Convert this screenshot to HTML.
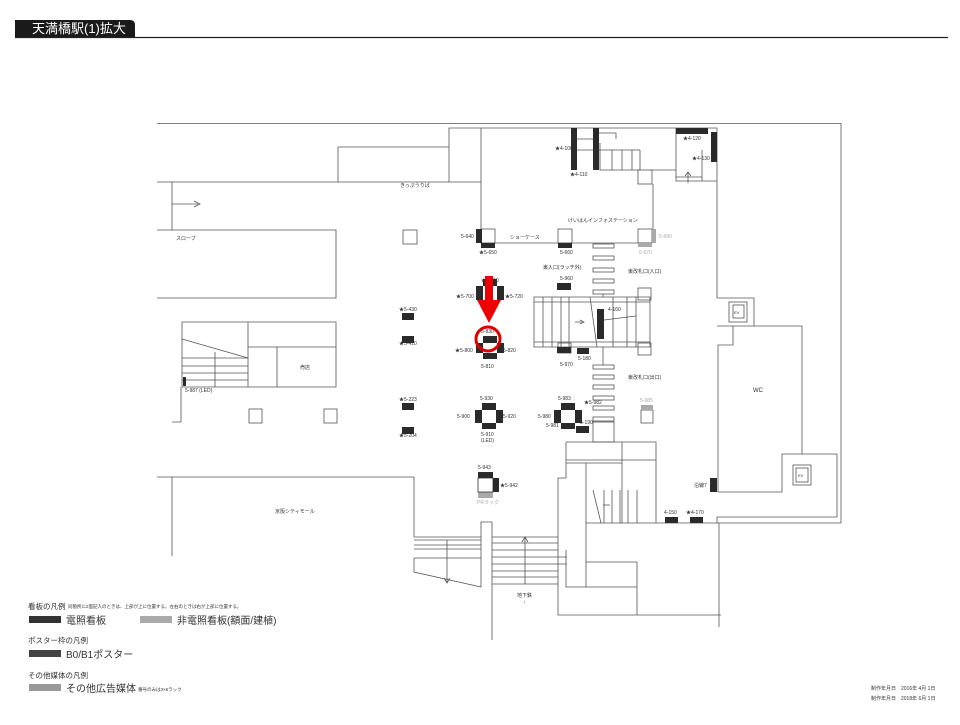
<!DOCTYPE html>
<html><head><meta charset="utf-8"><style>
html,body{margin:0;padding:0;background:#fff;}
body{width:960px;height:720px;position:relative;overflow:hidden;font-family:"Liberation Sans","Noto Sans CJK JP",sans-serif;}
svg text{font-family:"Liberation Sans","Noto Sans CJK JP",sans-serif;}
</style></head><body>
<svg width="960" height="720" viewBox="0 0 960 720" xmlns="http://www.w3.org/2000/svg">
<path d="M15 37 V20 H130 Q135 20 135 25 V37 Z" fill="#1a1a1a"/>
<text x="32" y="33" font-size="13" fill="#fff">天満橋駅(1)拡大</text>
<line x1="15" y1="37.5" x2="948" y2="37.5" stroke="#222" stroke-width="1.2"/>

<g fill="none" stroke="#555" stroke-width="0.8">
<path d="M157 123.5 H841 V523"/>
<path d="M157 182 H481"/>
<path d="M338 182 V147 H449 V182 M449 147 V128 H481"/>
<path d="M481 128 V243 H650"/>
<path d="M481 128 H717 V298"/>
<path d="M172 182 V230 M157 230 H336 V298 H157"/>
<path d="M172 204 H198"/><path d="M194 201 L200 204 L194 207"/>
<path d="M182 322 H336 V387 H182 Z M248 322 V387 M248 347 H336 M277 347 V387"/>
<path d="M182 339 L248 358"/>
<path d="M182 358 H248 M182 366 H248 M182 373 H248 M182 380 H248 M215 352 V387"/>
<path d="M181 387 V422 H172"/>
<rect x="403" y="230" width="14" height="14"/>
<rect x="249" y="409" width="13" height="14"/>
<rect x="324" y="409" width="13" height="14"/>
<path d="M571 139 H598 M571 150 H640 M600 143 V170 H640 V150 M612 150 V170 M622 150 V170 M632 150 V170"/>
<path d="M598 133 H616 V139"/>
<rect x="638" y="170" width="14" height="14"/>
<path d="M650 170 H676 V128 M676 128 V181 H717 M676 177 H702 M702 150 V181"/>
<path d="M688 172 V183 M685 176 L688 172 L691 176"/>
<path d="M653 184 V243"/>
<rect x="481" y="229" width="14" height="14"/>
<rect x="558" y="229" width="14" height="14"/>
<rect x="638" y="229" width="14" height="14"/>
<rect x="593" y="244" width="21" height="4"/><rect x="593" y="256" width="21" height="4"/><rect x="593" y="268" width="21" height="4"/><rect x="593" y="279" width="21" height="4"/><rect x="593" y="290" width="21" height="4"/>
<rect x="593" y="365" width="21" height="4"/><rect x="593" y="375" width="21" height="4"/><rect x="593" y="385" width="21" height="4"/><rect x="593" y="396" width="21" height="4"/><rect x="593" y="406" width="21" height="4"/><rect x="593" y="417" width="21" height="4"/>
<path d="M603 294 V297 M603 347 V365"/>
<path d="M534 297 H650 V347 H534 Z M534 302 H650 M534 342 H650"/>
<path d="M543 297 V347 M552 297 V347 M561 297 V347 M569 297 V347 M627 297 V347 M636 297 V347 M613 297 V347 M590 297 L597 347"/>
<path d="M575 322 H582 M580 320 L584 322 L580 324"/>
<path d="M604 320 L636 316"/>
<rect x="638" y="288" width="13" height="12"/>
<rect x="638" y="343" width="13" height="12"/>
<rect x="558" y="343" width="13" height="10"/>
<rect x="641" y="410" width="12" height="13"/>
<!-- ev + wc -->
<path d="M717 298 H754 V326"/>
<rect x="729" y="302" width="18" height="20"/><rect x="733" y="305" width="11" height="13"/>
<path d="M717 326 H802 V454 M733 326 V345 H718 V492 H782 V454 H837 V517 H717 V523 H841"/>
<rect x="793" y="465" width="18" height="20"/><rect x="796" y="468" width="12" height="14"/>
<!-- lower right -->
<path d="M566 442 H656 V523 M566 442 V478 H558 V615 H721 M566 460 H656 M566 463 H622 M622 442 V523"/>
<path d="M586 463 V587 M586 523 H717 M719 523 V627"/>
<path d="M586 562 H637 V615 M566 550 V587 H637"/>
<path d="M604 490 V523 M612 490 V523 M620 490 V523 M628 490 V523 M637 490 V523 M593 490 L601 523"/>
<path d="M603 505 H610"/>
<rect x="593" y="422" width="21" height="20"/>
<path d="M157 477 H414 M172 477 V556"/>
<path d="M414 477 V537 M414 537 H481 M414 540 H481 M414 545 H481 M414 549 H481 M414 558 H481 M414 558 V572 L481 587 V522 H492 V640"/>
<path d="M447 540 V582 M444 578 L447 583 L450 578"/>
<path d="M492 537 H558 M492 543 H558 M492 550 H558 M492 557 H567 M492 564 H567 M492 571 H558 M492 577 H558 M492 584 H558"/>
<path d="M525 584 V538 M522 542 L525 537 L528 542"/>
</g>

<g fill="#2a2a2a">
<rect x="571" y="128" width="6" height="42"/><rect x="593" y="128" width="6" height="42"/>
<rect x="676" y="128" width="32" height="6"/><rect x="711" y="132" width="6" height="30"/>
<rect x="476" y="229" width="6" height="14"/><rect x="481" y="243" width="14" height="5"/>
<rect x="558" y="243" width="14" height="5"/>
<rect x="483" y="279" width="14" height="7"/><rect x="476" y="286" width="7" height="14"/><rect x="497" y="286" width="7" height="14"/><rect x="483" y="300" width="14" height="5"/>
<rect x="402" y="313" width="12" height="7"/><rect x="402" y="336" width="12" height="7"/>
<rect x="483" y="336" width="14" height="7"/><rect x="476" y="343" width="7" height="10"/><rect x="497" y="343" width="7" height="10"/><rect x="483" y="353" width="14" height="6"/>
<rect x="402" y="403" width="12" height="7"/><rect x="402" y="427" width="12" height="7"/>
<rect x="482" y="403" width="14" height="7"/><rect x="475" y="410" width="7" height="13"/><rect x="496" y="410" width="7" height="13"/><rect x="482" y="423" width="14" height="6"/>
<rect x="561" y="403" width="14" height="7"/><rect x="554" y="410" width="7" height="13"/><rect x="575" y="410" width="7" height="13"/><rect x="561" y="423" width="14" height="6"/>
<rect x="576" y="426" width="13" height="7"/>
<rect x="478" y="472" width="15" height="6"/><rect x="493" y="478" width="6" height="14"/>
<rect x="597" y="309" width="7" height="30"/>
<rect x="557" y="283" width="14" height="7"/><rect x="557" y="347" width="14" height="6"/><rect x="577" y="348" width="12" height="6"/>
<rect x="665" y="517" width="13" height="6"/><rect x="690" y="517" width="13" height="6"/>
<rect x="710" y="478" width="7" height="14"/>
<rect x="183" y="377" width="3" height="9"/>
</g>
<g fill="#aaa">
<rect x="652" y="229" width="4" height="14"/><rect x="638" y="243" width="14" height="4"/>
<rect x="641" y="405" width="12" height="5"/>
<rect x="478" y="492" width="15" height="6"/>
</g>
<rect x="478" y="478" width="15" height="14" fill="none" stroke="#333" stroke-width="0.8"/>

<g font-size="5" fill="#333">
<text x="400" y="187">きっぷうりば</text>
<text x="176" y="240">スローブ</text>
<text x="300" y="369">売店</text>
<text x="185" y="392">5-987 (LED)</text>
<text x="510" y="239">ショーケース</text>
<text x="568" y="222">けいはんインフォステーション</text>
<text x="461" y="238">5-640</text><text x="479" y="254">★5-650</text>
<text x="560" y="254">5-660</text>
<text x="659" y="238" fill="#aaa">5-680</text><text x="639" y="254" fill="#aaa">5-670</text>
<text x="543" y="269">東入口(ラッチ外)</text>
<text x="628" y="273">東改札口(入口)</text>
<text x="628" y="379">東改札口(出口)</text>
<text x="560" y="280">5-960</text>
<text x="608" y="311">4-160</text>
<text x="560" y="366">5-970</text><text x="578" y="360">5-180</text>
<text x="481" y="282">★5-710</text>
<text x="456" y="298">★5-700</text><text x="505" y="298">★5-720</text>
<text x="481" y="333">5-830</text>
<text x="455" y="352">★5-800</text><text x="503" y="352">5-820</text><text x="481" y="368">5-810</text>
<text x="399" y="311">★5-430</text><text x="399" y="345">★5-410</text>
<text x="399" y="401">★5-223</text><text x="399" y="437">★5-204</text>
<text x="480" y="400">5-930</text><text x="457" y="418">5-900</text><text x="503" y="418">5-920</text><text x="481" y="436">5-910</text><text x="481" y="442">(LED)</text>
<text x="558" y="400">5-983</text><text x="538" y="418">5-980</text><text x="546" y="427">5-981</text><text x="584" y="404">★5-982</text><text x="580" y="424">5-190</text>
<text x="640" y="402" fill="#aaa">5-985</text>
<text x="478" y="469">5-943</text><text x="500" y="487">★5-942</text><text x="477" y="504" fill="#aaa">PRラック</text>
<text x="555" y="150">★4-100</text><text x="570" y="176">★4-110</text>
<text x="683" y="140">★4-120</text><text x="692" y="160">★4-130</text>
<text x="664" y="514">4-150</text><text x="686" y="514">★4-170</text>
<text x="694" y="487">沿線7</text>
<text x="753" y="392" font-size="6">WC</text>
<text x="734" y="314" font-size="4">EV</text><text x="798" y="477" font-size="4">EV</text>
<text x="275" y="513">京阪シティモール</text>
<text x="517" y="597">地下鉄</text><text x="523" y="603">↓</text>
</g>

<rect x="485" y="276" width="8" height="25" fill="#e00"/>
<polygon points="477,300 501,300 489,323" fill="#e00"/>
<circle cx="488" cy="339" r="12" fill="none" stroke="#d00" stroke-width="3"/>

<g fill="#333">
<text x="28" y="609" font-size="7.5">看板の凡例</text>
<text x="68" y="608" font-size="4.5">同箇所に2面記入のときは、上部が上に位置する。左右のときは右が上部に位置する。</text>
<rect x="29" y="616" width="32" height="7" fill="#333"/>
<text x="66" y="624" font-size="10">電照看板</text>
<rect x="140" y="616" width="32" height="7" fill="#aaa"/>
<text x="177" y="624" font-size="10">非電照看板(額面/建植)</text>
<text x="28" y="643" font-size="7.5">ポスター枠の凡例</text>
<rect x="29" y="650" width="32" height="7" fill="#444"/>
<text x="66" y="658" font-size="10">B0/B1ポスター</text>
<text x="28" y="678" font-size="7.5">その他媒体の凡例</text>
<rect x="29" y="684" width="32" height="7" fill="#999"/>
<text x="66" y="692" font-size="10">その他広告媒体</text>
<text x="138" y="691" font-size="4.5">番号のみは3×6ラック</text>
<text x="871" y="690" font-size="5">制作年月日　2016年 4月 1日</text>
<text x="871" y="700" font-size="5">制作年月日　2018年 6月 1日</text>
</g>
</svg>
</body></html>
